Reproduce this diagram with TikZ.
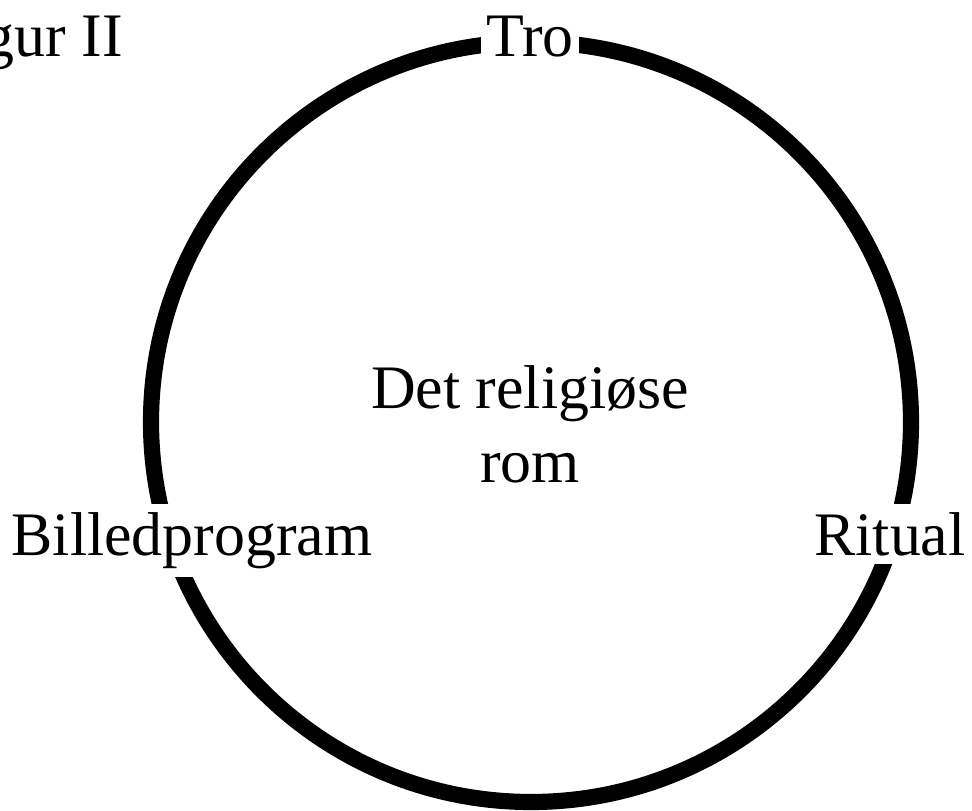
\documentclass[tikz,border=0pt]{standalone}
\usepackage{fontspec}
\setmainfont{Liberation Serif}
\usepackage{tkz-euclide}
\newcommand{\BigText}{\fontsize{44}{53}\selectfont}

\begin{document}
\begin{tikzpicture}[gaplabel/.style={fill=white,inner xsep=4pt,inner ysep=6pt,anchor=base,font=\BigText}]
\useasboundingbox (0,0) rectangle (24.3,20.25);
\tkzDefPoints{13.275/9.7/O,13.25/18.825/T,4.8/6.375/B,22.25/6.375/R,3.075/18.825/F,13.25/9.6375/M}

\draw[line width=11.5pt] (O) circle (9.5);

\node[gaplabel] (tro) at (T) {Tro};
\node[gaplabel] (bild) at (B) {Billedprogram};
\node[gaplabel] (rit) at (R) {Ritual};
\node[font=\BigText,inner sep=0pt,anchor=base east] (fig) at (F) {Figur II};
\node[font=\BigText,inner sep=0pt,align=center] (rom) at (M) {Det religiøse\\rom};
\end{tikzpicture}
\end{document}
